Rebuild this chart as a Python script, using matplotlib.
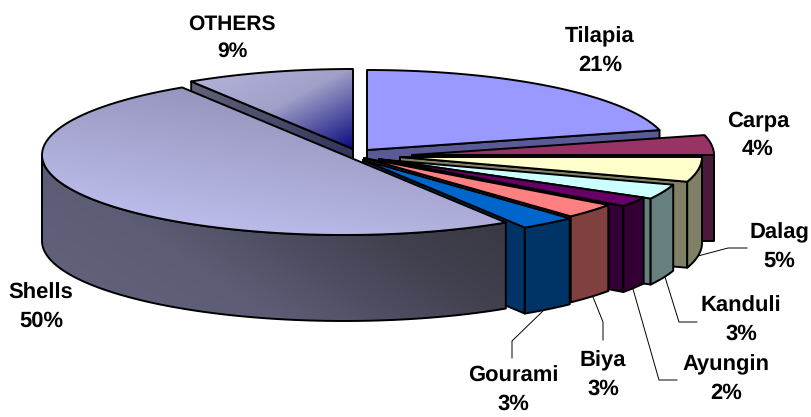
import numpy as np
import matplotlib
matplotlib.use('Agg')
import matplotlib.pyplot as plt
from matplotlib.colors import LinearSegmentedColormap
from matplotlib.patches import Polygon

labels = ['Tilapia', 'Carpa', 'Dalag', 'Kanduli', 'Ayungin', 'Biya', 'Gourami', 'Shells', 'OTHERS']
values = [21, 4, 5, 3, 2, 3, 3, 50, 9]
top_colors = ['#9999FF', '#993366', '#FFFFCC', '#CCFFFF', '#660066', '#FF8080', '#0066CC', '#C4C4F4', '#B0B0D8']
side_colors = ['#5A5A96', '#4B1A3A', '#808066', '#668080', '#330033', '#804040', '#003366', '#4A4A60', '#4A4A62']

# how far each slice is pulled out of the centre, in pixels
explode_x = [10, 55, 43, 29, 22, 7, 6, -13, -4]
explode_y = [-3, 2, 4, 7, 6, 5, 7, 2, -4]

# label centres and leader lines
label_x = [600, 758, 779, 741, 726, 603, 513, 41, 232]
label_y = [51, 135, 247, 320, 379, 375, 390, 307, 38]
label_size = [16, 16, 16, 16, 16, 16, 16, 16, 15]
leaders = [
    ([698, 728, 747], [256, 248, 248]),
    ([665, 679, 697], [277, 322, 322]),
    ([633, 659, 677], [289, 380, 380]),
    ([593, 603, 603], [297, 322, 340]),
    ([545, 512, 512], [309, 341, 358]),
]

cx, cy = 357, 153
rx, ry = 302, 80
depth = 86
line_w = 1.4


def arc(x0, y0, a0, a1):
    t = np.radians(np.linspace(a0, a1, 80))
    return x0 + rx * np.sin(t), y0 - ry * np.cos(t)


def gradient(ax, poly, x0, x1, y0, y1, colors, angle, z):
    # filled with a gradient, clipped to the polygon
    cmap = LinearSegmentedColormap.from_list('g', colors)
    xx, yy = np.meshgrid(np.linspace(0, 1, 200), np.linspace(0, 1, 200))
    g = xx * np.cos(angle) + yy * np.sin(angle)
    g = (g - g.min()) / (g.max() - g.min())
    im = ax.imshow(g, cmap=cmap, extent=(x0, x1, y1, y0), aspect='auto', zorder=z, origin='upper')
    patch = Polygon(poly, closed=True, transform=ax.transData, fc='none', ec='none')
    ax.add_patch(patch)
    im.set_clip_path(patch)


def outline(ax, poly, z, fc='none'):
    ax.add_patch(Polygon(poly, closed=True, fc=fc, ec='black', lw=line_w, joinstyle='round', zorder=z))


def main():
    plt.rcParams['font.family'] = ['Liberation Sans', 'DejaVu Sans']
    plt.rcParams['text.hinting'] = 'none'
    plt.rcParams['text.hinting_factor'] = 1
    fig = plt.figure(figsize=(8.12, 4.17), dpi=100, facecolor='white')
    ax = fig.add_axes([0, 0, 1, 1])

    edges = np.cumsum([0] + values) * 3.6
    # back to front: OTHERS first, Shells last
    order = [8, 0, 1, 2, 3, 4, 5, 6, 7]
    z = 2
    for i in order:
        a0, a1 = edges[i], edges[i + 1]
        x0 = cx + explode_x[i]
        y0 = cy + explode_y[i]
        ax_, ay_ = arc(x0, y0, a0, a1)
        top = np.column_stack([np.r_[x0, ax_], np.r_[y0, ay_]])

        # cut face on the clockwise end, seen when it turns to the viewer
        if labels[i] == 'OTHERS':
            # this one shows its other cut face
            face = [(x0, y0), (ax_[0], ay_[0]), (ax_[0], ay_[0] + depth), (x0, y0 + depth)]
            gradient(ax, face, ax_[0], x0, ay_[0], y0 + depth, ['#62627A', '#30305A'], 0.2, z)
            outline(ax, face, z + 0.1)
        elif labels[i] != 'Shells':
            face = [(x0, y0), (ax_[-1], ay_[-1]), (ax_[-1], ay_[-1] + depth), (x0, y0 + depth)]
            outline(ax, face, z, side_colors[i])

        # outer wall, only the part facing front
        w0, w1 = max(a0, 90), min(a1, 270)
        if w1 > w0:
            wx, wy = arc(x0, y0, w0, w1)
            wall = np.column_stack([np.r_[wx, wx[::-1]], np.r_[wy, wy[::-1] + depth]])
            if labels[i] == 'Shells':
                gradient(ax, wall, wx.min(), wx.max(), wy.min(), wy.max() + depth,
                         ['#34343F', '#40404E', '#5C5C76', '#64647F'], np.pi - 0.5, z + 0.2)
                outline(ax, wall, z + 0.3)
            else:
                outline(ax, wall, z + 0.2, side_colors[i])

        # top of the slice
        if labels[i] == 'Shells':
            gradient(ax, top, ax_.min(), ax_.max(), ay_.min(), ay_.max(),
                     ['#C6C6F6', '#8686AC'], -1.1, z + 0.4)
            outline(ax, top, z + 0.5)
        elif labels[i] == 'OTHERS':
            gradient(ax, top, ax_.min(), x0, ay_.min(), y0,
                     ['#B4B4DC', '#A0A0C8', '#0A0A80'], 0.75, z + 0.4)
            outline(ax, top, z + 0.5)
        else:
            outline(ax, top, z + 0.4, top_colors[i])
        z += 1

    for lx, ly in leaders:
        ax.plot(lx, ly, color='black', lw=0.7, zorder=1)

    for i, name in enumerate(labels):
        ax.text(label_x[i], label_y[i], '%s\n%d%%' % (name, values[i]), ha='center', va='center',
                fontsize=label_size[i], fontweight='bold', linespacing=1.45, zorder=30)

    # imshow resets the limits, so set them last
    ax.set_xlim(0, 812)
    ax.set_ylim(417, 0)
    ax.axis('off')

    fig.savefig('out.png', dpi=100)


if __name__ == '__main__':
    main()
